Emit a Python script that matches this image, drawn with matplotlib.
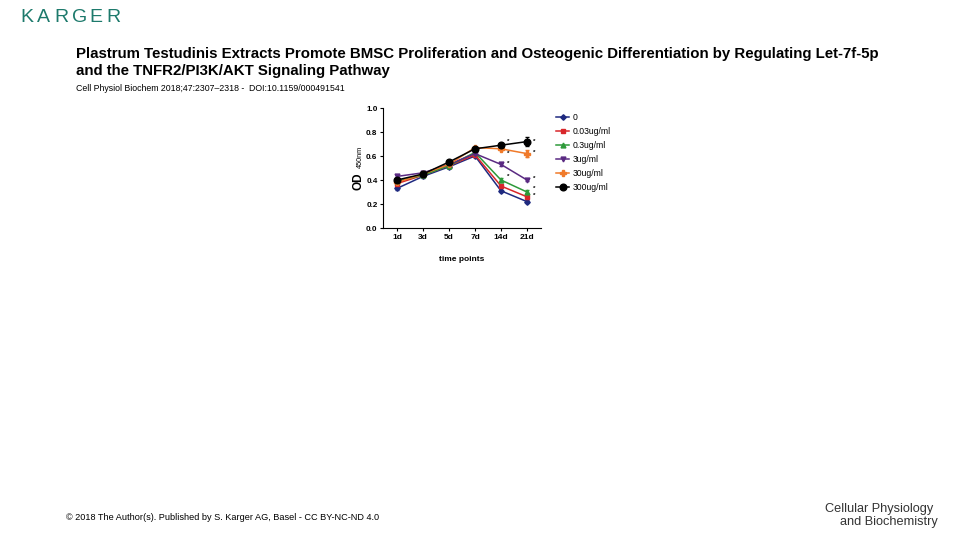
import numpy as np
import matplotlib.pyplot as plt
from matplotlib.lines import Line2D

plt.rcParams['font.family'] = ['Liberation Sans', 'DejaVu Sans']

# data
time_labels = ['1d', '3d', '5d', '7d', '14d', '21d']
groups = ['0', '0.03ug/ml', '0.3ug/ml', '3ug/ml', '30ug/ml', '300ug/ml']
od_0 = [0.33, 0.43, 0.51, 0.60, 0.31, 0.22]
od_003 = [0.37, 0.44, 0.52, 0.61, 0.35, 0.26]
od_03 = [0.39, 0.44, 0.52, 0.63, 0.40, 0.30]
od_3 = [0.43, 0.46, 0.53, 0.62, 0.53, 0.40]
od_30 = [0.38, 0.45, 0.53, 0.67, 0.66, 0.62]
od_300 = [0.40, 0.45, 0.55, 0.66, 0.69, 0.72]
err_0 = [0.01, 0.01, 0.01, 0.01, 0.01, 0.01]
err_003 = [0.01, 0.01, 0.01, 0.01, 0.02, 0.02]
err_03 = [0.01, 0.01, 0.01, 0.01, 0.02, 0.02]
err_3 = [0.01, 0.01, 0.01, 0.01, 0.01, 0.01]
err_30 = [0.01, 0.01, 0.01, 0.01, 0.01, 0.03]
err_300 = [0.01, 0.01, 0.01, 0.01, 0.01, 0.04]
# significance stars (y level of each star) at 14d and 21d
star_14 = [0.72, 0.62, 0.54, 0.43]
star_21 = [0.72, 0.63, 0.41, 0.33, 0.27]

series = [od_0, od_003, od_03, od_3, od_30, od_300]
errs = [err_0, err_003, err_03, err_3, err_30, err_300]
colors = ['#1f2a80', '#d8262a', '#2e9a3a', '#5a2a82', '#f07a2a', '#000000']
markers = ['D', 's', '^', 'v', 'P', 'o']
msizes = [2.8, 3.2, 3.5, 3.5, 3.8, 4.8]

fig = plt.figure(figsize=(9.6, 5.4), dpi=100)

# header / footer of the slide
for i, ch in enumerate('KARGER'):
    fig.text((20 + i * 17.3) / 960, 1 - 17 / 540, ch, color='#1d7a6c', fontsize=14,
             va='center', ha='left')
fig.text(76/960, 1-54/540, 'Plastrum Testudinis Extracts Promote BMSC Proliferation and Osteogenic '
         'Differentiation by Regulating Let-7f-5p', fontsize=10.8, fontweight='bold', va='center')
fig.text(76/960, 1-71/540, 'and the TNFR2/PI3K/AKT Signaling Pathway', fontsize=10.8,
         fontweight='bold', va='center')
fig.text(76/960, 1-89/540, 'Cell Physiol Biochem 2018;47:2307\u20132318 -  DOI:10.1159/000491541',
         fontsize=6.3, va='center')
fig.text(66/960, 1-517/540, '\u00a9 2018 The Author(s). Published by S. Karger AG, Basel - CC BY-NC-ND 4.0',
         fontsize=6.6, va='center')
fig.text(825/960, 1-509/540, 'Cellular Physiology', fontsize=9.2, color='#333333', va='center')
fig.text(840/960, 1-522/540, 'and Biochemistry', fontsize=9.2, color='#333333', va='center')

ax = fig.add_axes([383/960, 1-228/540, 158/960, 120/540])
x = np.arange(len(time_labels))
for vals, e, c, m, ms in zip(series, errs, colors, markers, msizes):
    ax.errorbar(x, vals, yerr=e, color=c, marker=m, markersize=ms, linewidth=1.1,
                capsize=1.5, elinewidth=0.8)

for s in star_14:
    ax.text(4.22, s, '*', fontsize=4.5, fontweight='bold', ha='left', va='center')
for s in star_21:
    ax.text(5.22, s, '*', fontsize=4.5, fontweight='bold', ha='left', va='center')

ax.set_xlim(-0.54, 5.54)
ax.set_ylim(0, 1.0)
ax.set_yticks([0.0, 0.2, 0.4, 0.6, 0.8, 1.0])
ax.set_yticklabels(['0.0', '0.2', '0.4', '0.6', '0.8', '1.0'], fontsize=5.8, fontweight='bold')
ax.set_xticks(x)
ax.set_xticklabels(time_labels, fontsize=6, fontweight='bold')
ax.tick_params(length=2, width=0.8, pad=2)
ax.spines['top'].set_visible(False)
ax.spines['right'].set_visible(False)
ax.set_xlabel('time points', fontsize=6, fontweight='bold', labelpad=11)

# y label: "OD" with small "450nm"
fig.text(359/960, 1-181/540, 'OD', fontsize=8.5, fontweight='bold', rotation=90,
         ha='center', va='center', family='Liberation Sans')
fig.text(360/960, 1-157/540, '450nm', fontsize=5.2, rotation=90, ha='center', va='center',
         family='Liberation Sans')

handles = [Line2D([], [], color=c, marker=m, markersize=ms, linewidth=1.1)
           for c, m, ms in zip(colors, markers, msizes)]
ax.legend(handles, groups, loc='upper left', bbox_to_anchor=(553/960, 1-110/540),
          bbox_transform=fig.transFigure, frameon=False, fontsize=6.2, handlelength=1.5,
          handletextpad=0.35, labelspacing=0.56, borderaxespad=0)

fig.savefig('out.png', dpi=100)
